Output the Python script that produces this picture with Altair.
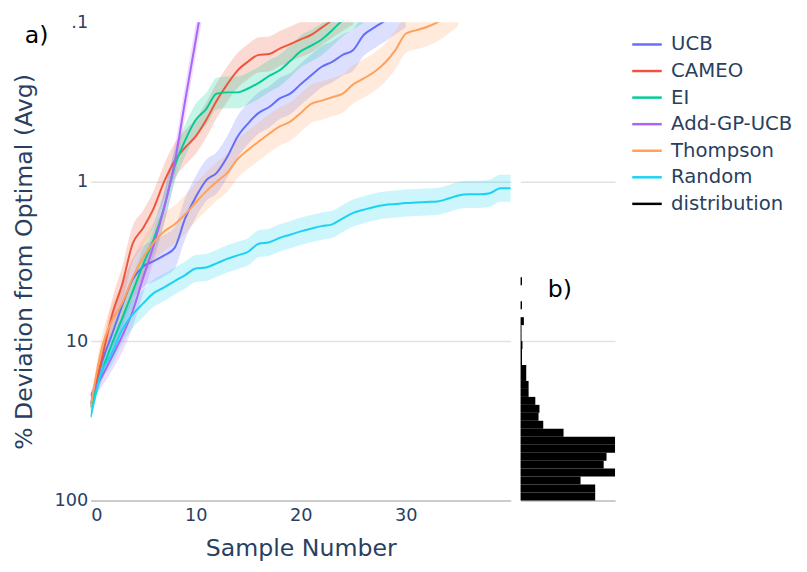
import altair as alt
import pandas as pd

# ---- data ----
methods = ["UCB", "CAMEO", "EI", "Add-GP-UCB", "Thompson", "Random"]
colors = ["#636efa", "#EF553B", "#00cc96", "#ab63fa", "#FFA15A", "#19d3f3"]

ucb = [25, 14, 9.2, 6.0, 4.1, 3.4, 3.15, 2.9, 2.6, 1.7, 1.25, 0.98, 0.88, 0.7, 0.52,
       0.43, 0.37, 0.34, 0.3, 0.28, 0.245, 0.215, 0.19, 0.177, 0.16, 0.149, 0.12,
       0.108, 0.098, 0.088, 0.08]
cameo = [25, 13.5, 7.0, 4.4, 2.45, 1.95, 1.47, 1.0, 0.74, 0.61, 0.52, 0.41, 0.31,
         0.245, 0.2, 0.176, 0.16, 0.158, 0.146, 0.137, 0.128, 0.12, 0.108, 0.097,
         0.088, 0.08]
ei = [26, 16, 10.5, 7.2, 4.9, 3.3, 2.3, 1.45, 0.8, 0.55, 0.41, 0.35, 0.28, 0.275,
      0.275, 0.26, 0.24, 0.217, 0.2, 0.175, 0.152, 0.14, 0.128, 0.112, 0.097, 0.088,
      0.08]
add_gp_ucb = [22, 17, 12.7, 9.3, 6.5, 4.0, 2.5, 1.45, 0.76, 0.31, 0.13, 0.054]
thompson = [26, 11.5, 7.5, 5.8, 4.0, 3.0, 2.4, 2.05, 1.85, 1.6, 1.35, 1.15, 1.0, 0.88,
            0.72, 0.63, 0.56, 0.5, 0.45, 0.42, 0.37, 0.325, 0.31, 0.295, 0.28, 0.245,
            0.225, 0.205, 0.18, 0.15, 0.118, 0.112, 0.107, 0.1, 0.09, 0.08]
random_ = [30, 16, 12, 8.5, 6.8, 5.8, 5.0, 4.6, 4.2, 3.85, 3.5, 3.45, 3.25, 3.05, 2.9,
           2.75, 2.45, 2.4, 2.25, 2.15, 2.05, 1.97, 1.9, 1.85, 1.7, 1.57, 1.5, 1.44,
           1.4, 1.38, 1.36, 1.35, 1.34, 1.33, 1.28, 1.22, 1.2, 1.2, 1.18, 1.1, 1.1]

series = [ucb, cameo, ei, add_gp_ucb, thompson, random_]
# half-width of the shaded band (decades) and its narrowing over the first samples
band_spread = [0.13, 0.11, 0.10, 0.10, 0.12, 0.085]
band_start_scale = [0.3, 0.6, 0.85]

# histogram (panel b): bins of 0.05 decade counted upward from 100
hist_name = "distribution"
hist_counts = [79, 79, 63.5, 100, 88, 91, 100, 100, 45.5, 24, 19, 20, 15.6, 8.5, 8.5,
               6, 6, 1.5, 1.5, 2, 1, 1, 3.5, 0, 1.5, 0, 0, 1.5]
hist_bin_decades = 0.05
hist_top_value = 100

y_ticks = [0.1, 1, 10, 100]
x_ticks = [0, 10, 20, 30]
panel_labels = ["a)", "b)"]

# ---- tables ----
rows = []
for name, vals, sp in zip(methods, series, band_spread):
    for i, v in enumerate(vals):
        s = sp * (band_start_scale[i] if i < len(band_start_scale) else 1.0)
        rows.append({"method": name, "band": name, "x": i, "value": v,
                     "lo": v / 10 ** s, "hi": v * 10 ** s})
df = pd.DataFrame(rows)

hist_rows = []
for i, c in enumerate(hist_counts):
    hist_rows.append({
        "hi": hist_top_value / 10 ** (hist_bin_decades * i),
        "lo": hist_top_value / 10 ** (hist_bin_decades * (i + 1)),
        "zero": 0, "count": c, "method": hist_name})
hist_df = pd.DataFrame(hist_rows)

FONT = "DejaVu Sans"
TXT = "#2a3f5f"
GRID = "#e2e2e2"

y_scale = alt.Scale(type="log", domain=[0.1, 100], reverse=True, nice=False)
x_scale = alt.Scale(domain=[0, 40], nice=False, zero=False)
all_names = methods + [hist_name]
legend_scale = alt.Scale(domain=all_names, range=colors + ["black"])

legend = alt.Legend(
    title=None, orient="right", offset=10, padding=6,
    labelFontSize=20, labelFont=FONT, labelLimit=300, labelColor=TXT,
    labelOffset=8, symbolType="stroke", symbolSize=900,
    symbolStrokeWidth=2.5, symbolOpacity=1, rowPadding=0,
)

x_axis = alt.Axis(
    values=x_ticks, title="Sample Number", titleFontSize=24, titleFont=FONT,
    titleColor=TXT, titleFontWeight="normal", titlePadding=13,
    labelFontSize=18, labelFont=FONT, labelColor=TXT, labelPadding=6,
    ticks=False, grid=False, domain=True, domainColor="#cccccc", domainWidth=2,
)
y_axis = alt.Axis(
    values=y_ticks,
    labelExpr="datum.value == 0.1 ? '.1' : format(datum.value, 'd')",
    labelFontSize=18, labelFont=FONT, labelColor=TXT, labelPadding=3,
    ticks=False, domain=False, grid=True, gridColor=GRID, gridWidth=1.5,
    gridOpacity=alt.condition("datum.value < 0.5 || datum.value > 50", alt.value(0), alt.value(1)),
    title="% Deviation from Optimal (Avg)", titleFontSize=24, titleFont=FONT,
    titleColor=TXT, titleFontWeight="normal", titleX=-67, titleY=243,
    titleAngle=270, titleAlign="center", titleBaseline="middle",
)

base = alt.Chart(df)
bands = base.mark_area(opacity=0.22, clip=True, interpolate="monotone").encode(
    x=alt.X("x:Q", scale=x_scale, axis=x_axis),
    y=alt.Y("lo:Q", scale=y_scale, axis=y_axis),
    y2="hi:Q",
    fill=alt.Fill("band:N", scale=alt.Scale(domain=methods, range=colors), legend=None),
)
lines = base.mark_line(strokeWidth=2, clip=True, interpolate="monotone").encode(
    x=alt.X("x:Q", scale=x_scale),
    y=alt.Y("value:Q", scale=y_scale),
    color=alt.Color("method:N", scale=alt.Scale(domain=methods, range=colors), legend=None),
)
label_a = alt.Chart(pd.DataFrame({"t": [panel_labels[0]]})).mark_text(
    font=FONT, fontSize=24, color="black", align="center", baseline="middle"
).encode(text="t:N", x=alt.value(-55), y=alt.value(14))

main = alt.layer(bands, lines, label_a).properties(width=427, height=486)

hist_x = alt.Scale(domain=[0, 100], nice=False)
hist_bars = alt.Chart(hist_df).mark_rect().encode(
    y=alt.Y("lo:Q", scale=y_scale, axis=alt.Axis(
        values=[1, 10, 100], labels=False, ticks=False, domain=False, grid=True,
        gridColor=GRID, gridWidth=1.5, title=None)),
    y2="hi:Q",
    x=alt.X("zero:Q", scale=hist_x, axis=alt.Axis(
        labels=False, ticks=False, grid=False, title=None, domain=True,
        domainColor="#cccccc", domainWidth=2)),
    x2="count:Q",
    color=alt.Color("method:N", scale=legend_scale, legend=legend),
)
# invisible copy of the method lines so that one legend holds every entry
legend_keys = base.mark_line(opacity=0, clip=True).encode(
    x=alt.X("x:Q", scale=hist_x),
    y=alt.Y("value:Q", scale=y_scale),
    color=alt.Color("method:N", scale=legend_scale, legend=legend),
)
label_b = alt.Chart(pd.DataFrame({"t": [panel_labels[1]]})).mark_text(
    font=FONT, fontSize=24, color="black", align="center", baseline="middle"
).encode(text="t:N", x=alt.value(40), y=alt.value(272))

hist = alt.layer(legend_keys, hist_bars, label_b).properties(width=96, height=486)

chart = alt.hconcat(main, hist, spacing=10).resolve_scale(
    color="independent", fill="independent"
).resolve_legend(
    color="independent", fill="independent"
).properties(
    padding={"left": 4, "top": 1, "right": 0, "bottom": 0},
    background="white",
).configure_view(stroke=None)

chart.save("out.html", embed_options={"renderer": "svg", "actions": False})
